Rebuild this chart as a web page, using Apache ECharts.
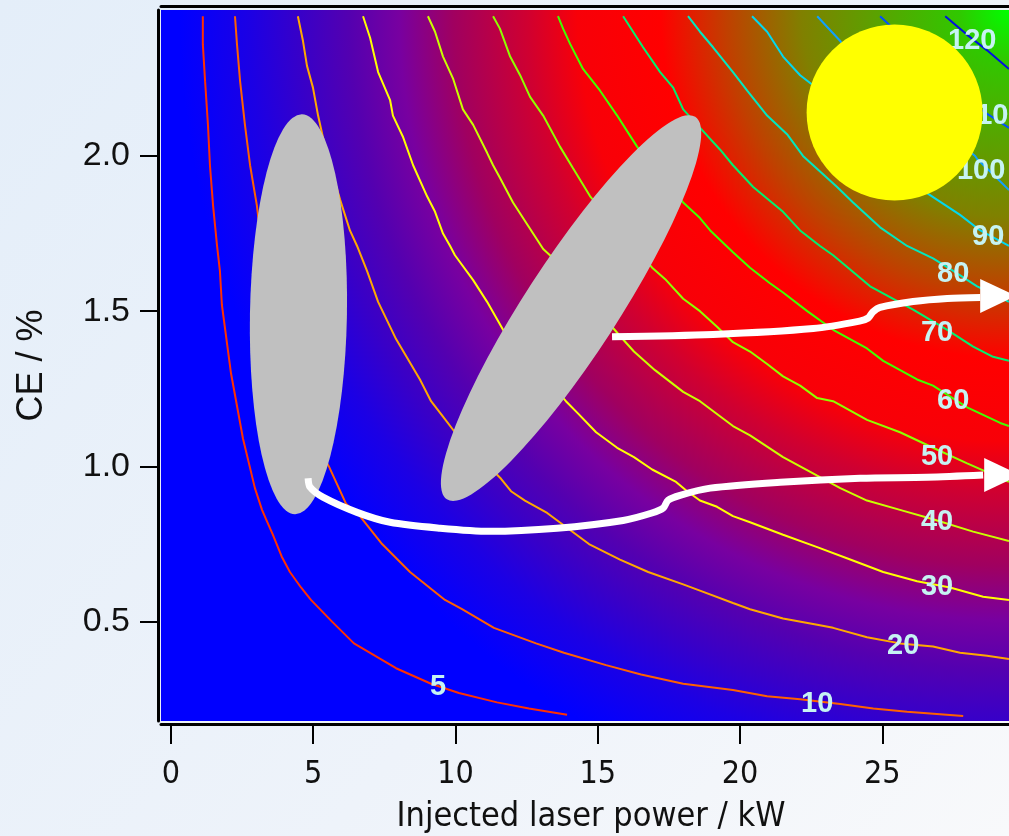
<!DOCTYPE html>
<html>
<head>
<meta charset="utf-8">
<title>CE vs injected laser power</title>
<script src="https://cdn.jsdelivr.net/npm/echarts@6/dist/echarts.min.js"></script>
<style>
html, body { margin: 0; padding: 0; background: #eef3f9; }
#chart { width: 1009px; height: 836px; }
</style>
</head>
<body>
<div id="chart"></div>
<script>
// axis ranges / tick labels
var xMin = -0.35, xMax = 29.45;
var yMin = 0.18, yMax = 2.47;
var xTicks = [0, 5, 10, 15, 20, 25];
var yTicks = [0.5, 1.0, 1.5, 2.0];

// contour lines, [injected power kW, CE %]
var c5 = [[1.12,2.45],[1.12,2.36],[1.20,2.24],[1.30,2.10],[1.37,1.97],[1.48,1.84],[1.62,1.71],[1.72,1.63],[1.79,1.52],[2.11,1.30],[2.53,1.09],[2.95,0.93],[3.20,0.86],[3.34,0.83],[3.58,0.78],[3.89,0.71],[4.18,0.66],[4.57,0.61],[4.92,0.57],[5.66,0.50],[6.43,0.43],[7.91,0.35],[9.14,0.30],[10.12,0.27],[11.46,0.24],[12.58,0.22],[13.92,0.20]];
var c10 = [[2.25,2.45],[2.32,2.36],[2.43,2.24],[2.60,2.10],[2.78,1.97],[3.02,1.84],[3.20,1.70],[3.48,1.54],[3.90,1.34],[4.53,1.18],[5.17,1.06],[5.55,1.00],[6.15,0.88],[6.64,0.84],[7.42,0.75],[8.40,0.66],[9.63,0.57],[10.23,0.54],[11.35,0.48],[12.83,0.43],[13.81,0.40],[15.29,0.36],[16.52,0.33],[18.00,0.30],[19.75,0.28],[20.95,0.26],[22.11,0.25],[23.52,0.235],[24.68,0.22],[25.87,0.21],[27.84,0.196]];
var c20 = [[4.46,2.45],[4.64,2.37],[4.78,2.29],[4.99,2.22],[5.17,2.13],[5.34,2.06],[5.66,1.95],[5.94,1.86],[6.29,1.76],[6.54,1.71],[6.89,1.63],[7.28,1.53],[7.91,1.41],[8.75,1.28],[9.14,1.21],[9.56,1.16],[9.98,1.11],[11.60,0.96],[11.95,0.92],[12.44,0.89],[13.22,0.85],[14.69,0.75],[15.78,0.70],[16.77,0.66],[18.00,0.62],[18.59,0.60],[19.75,0.56],[20.35,0.54],[21.51,0.51],[22.71,0.49],[23.27,0.48],[24.46,0.45],[25.62,0.43],[26.78,0.42],[27.73,0.40],[28.68,0.39],[29.45,0.38]];
var c30 = [[6.75,2.45],[7.00,2.38],[7.28,2.27],[7.70,2.18],[7.80,2.13],[8.16,2.06],[8.51,1.97],[9.00,1.87],[9.28,1.82],[9.56,1.75],[9.81,1.71],[9.98,1.68],[10.62,1.60],[11.11,1.53],[11.67,1.44],[13.88,1.21],[14.31,1.17],[14.94,1.11],[15.68,1.06],[16.27,1.03],[16.91,0.99],[17.75,0.95],[18.14,0.92],[18.59,0.89],[19.19,0.87],[19.75,0.84],[20.35,0.82],[21.51,0.78],[22.71,0.74],[23.87,0.70],[25.03,0.66],[26.22,0.63],[27.38,0.61],[28.54,0.58],[29.45,0.57]];
var c40 = [[9.03,2.45],[9.28,2.40],[9.56,2.32],[9.91,2.25],[10.26,2.15],[10.62,2.10],[11.11,2.01],[11.32,1.97],[11.56,1.93],[12.02,1.85],[13.08,1.70],[13.32,1.68],[15.78,1.42],[16.27,1.37],[17.01,1.31],[18.00,1.24],[18.59,1.21],[19.75,1.13],[20.35,1.10],[21.51,1.03],[22.71,0.97],[23.52,0.93],[24.46,0.89],[25.62,0.86],[26.78,0.83],[28.19,0.79],[29.45,0.76]];
var c50 = [[11.32,2.45],[11.56,2.41],[11.92,2.32],[12.27,2.26],[12.62,2.19],[13.08,2.13],[13.67,2.03],[14.13,1.96],[14.73,1.87],[16.91,1.64],[17.40,1.60],[18.00,1.54],[18.59,1.50],[19.19,1.45],[19.75,1.40],[20.35,1.37],[20.95,1.33],[21.51,1.29],[22.11,1.26],[22.71,1.22],[23.27,1.21],[24.46,1.15],[25.62,1.11],[26.78,1.06],[27.98,1.01],[29.45,0.95]];
var c60 = [[13.60,2.45],[13.78,2.41],[14.03,2.36],[14.48,2.28],[15.08,2.21],[15.68,2.13],[16.03,2.08],[16.38,2.03],[18.00,1.85],[18.59,1.80],[18.95,1.76],[19.75,1.69],[20.35,1.64],[21.05,1.59],[21.51,1.56],[22.36,1.50],[23.27,1.44],[24.46,1.38],[25.03,1.34],[26.22,1.28],[26.78,1.26],[27.98,1.19],[29.14,1.14],[29.45,1.13]];
var c70 = [[15.89,2.45],[16.24,2.40],[16.59,2.35],[17.19,2.27],[17.65,2.22],[18.00,2.15],[18.70,2.08],[19.30,2.02],[19.75,1.97],[20.46,1.90],[21.51,1.82],[22.11,1.76],[22.81,1.71],[23.27,1.68],[24.57,1.58],[26.08,1.505],[27.28,1.44],[28.19,1.386],[28.89,1.353],[29.45,1.34]];
var c80 = [[18.17,2.45],[18.59,2.40],[19.05,2.35],[19.75,2.27],[20.25,2.21],[20.95,2.13],[21.65,2.07],[22.21,2.00],[23.41,1.90],[23.97,1.85],[24.92,1.77],[25.87,1.71],[26.78,1.67],[27.49,1.63],[28.33,1.58],[29.45,1.53]];
var c90 = [[20.42,2.45],[20.95,2.40],[21.51,2.32],[22.11,2.26],[22.53,2.23],[26.57,1.88],[27.73,1.81],[28.44,1.76],[29.45,1.71]];
var c100 = [[22.71,2.45],[23.52,2.37],[23.69,2.35],[28.26,2.00],[28.33,1.99],[28.79,1.95],[29.45,1.89]];
var c110 = [[24.92,2.45],[25.27,2.42],[28.44,2.15],[29.45,2.09]];
var c120 = [[27.21,2.45],[27.98,2.39],[28.68,2.34],[29.45,2.28]];

var contours = [c5, c10, c20, c30, c40, c50, c60, c70, c80, c90, c100, c110, c120];
var contourColors = ['#ff3000', '#ff6000', '#ffa800', '#ffff00', '#c8ff00', '#8cff00', '#40ff00', '#00f070', '#00e8c0', '#00d8f0', '#10a0ff', '#0050ff', '#0010e0'];

// level labels [x, y, text]
var levelLabels = [[9.39,0.29,'5'],[22.71,0.235,'10'],[25.73,0.42,'20'],[26.92,0.61,'30'],[26.92,0.82,'40'],[26.92,1.03,'50'],[27.49,1.21,'60'],[26.92,1.43,'70'],[27.49,1.62,'80'],[28.72,1.74,'90'],[28.47,1.95,'100'],[28.61,2.13,'110'],[28.16,2.37,'120']];

// annotations
var leftRegion = [[4.48, 1.49]];
var midRegion = [[14.06, 1.51]];
var sunMark = [[25.43, 2.14]];
var upperArrow = [[15.50,1.418],[19.05,1.425],[22.57,1.444],[24.20,1.468],[24.50,1.478],[24.66,1.497],[24.92,1.512],[26.08,1.531],[27.28,1.541],[28.44,1.544]];
var lowerArrow = [[4.82,0.962],[4.89,0.933],[5.34,0.901],[6.54,0.852],[7.70,0.820],[9.46,0.801],[11.21,0.791],[13.57,0.801],[15.89,0.826],[16.90,0.850],[17.30,0.866],[17.47,0.891],[17.89,0.907],[18.95,0.930],[21.41,0.949],[24.22,0.962],[26.57,0.965],[28.54,0.972]];
var arrowHeads = [[29.07,1.549],[29.21,0.972]];

var narrowFont = "'Liberation Sans Narrow', 'DejaVu Sans Condensed', 'Liberation Sans', Arial, sans-serif";
var plainFont = "'Liberation Sans', Arial, sans-serif";
var ellipsePath = 'path://M0,50 A50,50 0 1,1 100,50 A50,50 0 1,1 0,50 Z';

var chart = echarts.init(document.getElementById('chart'));

var field = new echarts.graphic.RadialGradient(1, 0, 1.167, [
  { offset: 0, color: '#00ff00' },
  { offset: 0.06, color: '#30c800' },
  { offset: 0.25, color: '#808000' },
  { offset: 0.34, color: '#c04000' },
  { offset: 0.42, color: '#ff0000' },
  { offset: 0.52, color: '#f80008' },
  { offset: 0.58, color: '#d00030' },
  { offset: 0.67, color: '#a00060' },
  { offset: 0.735, color: '#7800a0' },
  { offset: 0.795, color: '#5400b0' },
  { offset: 0.855, color: '#3800c8' },
  { offset: 0.915, color: '#1c00e4' },
  { offset: 0.975, color: '#0800f8' },
  { offset: 1, color: '#0000ff' }
]);

var series = [{
  type: 'line',
  z: 1,
  data: [[xMin, yMin]],
  showSymbol: false,
  lineStyle: { opacity: 0 },
  silent: true,
  markArea: {
    silent: true,
    itemStyle: { color: field, opacity: 1 },
    data: [[{ coord: [xMin, yMin] }, { coord: [xMax, yMax] }]]
  }
}];

contours.forEach(function (c, i) {
  series.push({
    type: 'line',
    z: 2,
    data: c,
    showSymbol: false,
    silent: true,
    lineStyle: { color: contourColors[i], width: 2 }
  });
});

series.push({
  type: 'scatter',
  z: 3,
  data: levelLabels,
  symbolSize: 1,
  itemStyle: { color: 'transparent', opacity: 1 },
  label: {
    show: true,
    position: 'inside',
    formatter: function (p) { return p.value[2]; },
    color: '#c6f3f3',
    fontSize: 29,
    fontWeight: 'bold',
    fontFamily: plainFont
  }
});

series.push({
  type: 'scatter', z: 4, data: leftRegion, symbol: ellipsePath,
  symbolSize: [97, 400], symbolRotate: -1, itemStyle: { color: '#c0c0c0', opacity: 1 }
});
series.push({
  type: 'scatter', z: 4, data: midRegion, symbol: ellipsePath,
  symbolSize: [93, 456], symbolRotate: -33, itemStyle: { color: '#c0c0c0', opacity: 1 }
});
series.push({
  type: 'scatter', z: 5, data: sunMark, symbol: 'circle',
  symbolSize: 176, itemStyle: { color: '#ffff00', opacity: 1 }
});

[upperArrow, lowerArrow].forEach(function (a) {
  series.push({
    type: 'line', z: 6, data: a, showSymbol: false, smooth: 0.3,
    silent: true,
    lineStyle: { color: '#ffffff', width: 7 }
  });
});
series.push({
  type: 'scatter', z: 6, data: arrowHeads, symbol: 'triangle',
  symbolSize: [34, 36], symbolRotate: -90, clip: false,
  itemStyle: { color: '#ffffff', opacity: 1 }
});

var option = {
  animation: false,
  backgroundColor: new echarts.graphic.LinearGradient(0, 0, 1, 1, [
    { offset: 0, color: '#e4eef9' },
    { offset: 0.6, color: '#eef3fa' },
    { offset: 1, color: '#f8f9fb' }
  ]),
  grid: { left: 161, top: 10, right: 0, bottom: 115, outerBoundsMode: 'none' },
  xAxis: [{
    type: 'value',
    min: xMin,
    max: xMax,
    position: 'bottom',
    offset: 3,
    axisLine: { show: true, onZero: false, lineStyle: { color: '#000', width: 3 } },
    axisTick: { show: true, customValues: xTicks, length: 20, lineStyle: { color: '#000', width: 2 } },
    axisLabel: { customValues: xTicks, margin: 35, fontSize: 32, fontFamily: narrowFont, color: '#111' },
    splitLine: { show: false },
    name: 'Injected laser power / kW',
    nameLocation: 'middle',
    nameGap: 76,
    nameTextStyle: { fontSize: 34, fontFamily: narrowFont, color: '#111', padding: [0, 0, 0, 12] }
  }, {
    type: 'value',
    min: xMin,
    max: xMax,
    position: 'top',
    offset: 4,
    axisLine: { show: true, onZero: false, lineStyle: { color: '#000', width: 3 } },
    axisTick: { show: false },
    axisLabel: { show: false },
    splitLine: { show: false }
  }],
  yAxis: {
    type: 'value',
    min: yMin,
    max: yMax,
    offset: 3,
    axisLine: { show: true, onZero: false, lineStyle: { color: '#000', width: 3 } },
    axisTick: { show: true, customValues: yTicks, length: 18, lineStyle: { color: '#000', width: 2 } },
    axisLabel: {
      customValues: yTicks, margin: 28, fontSize: 34, fontFamily: plainFont, color: '#111',
      formatter: function (v) { return v.toFixed(1); }
    },
    splitLine: { show: false },
    name: 'CE / %',
    nameLocation: 'middle',
    nameGap: 108,
    nameTextStyle: { fontSize: 36, fontFamily: plainFont, color: '#111' }
  },
  series: series
};

chart.setOption(option);
</script>
</body>
</html>
